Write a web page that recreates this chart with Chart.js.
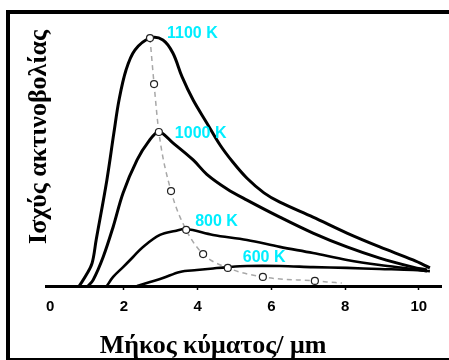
<!DOCTYPE html>
<html>
<head>
<meta charset="utf-8">
<script src="https://cdn.jsdelivr.net/npm/chart.js@4"></script>
<style>
  html, body { margin: 0; padding: 0; background: #fff; }
  canvas { display: block; }
</style>
</head>
<body>
<canvas id="planckChart" width="449" height="360"></canvas>
<script>
// Wavelength (μm) / radiated power (arbitrary units)
const lambda1100 = [0.79, 0.98, 1.14, 1.25, 1.54, 1.73, 1.87, 2.06, 2.30, 2.71, 3.06, 3.33, 3.58, 3.88, 4.25, 4.61, 4.96, 5.34, 5.80, 6.23, 7.13, 8.05, 8.94, 9.84, 10.30];
const power1100  = [0, 4.1, 8.6, 17.3, 39.8, 57.5, 69.9, 81.2, 88.7, 93.2, 92.5, 87.6, 78.6, 69.9, 61.3, 53.0, 46.5, 40.5, 35.0, 31.5, 25.9, 19.9, 14.7, 9.8, 6.8];

const lambda1000 = [1.03, 1.17, 1.44, 1.71, 1.98, 2.36, 2.66, 2.95, 3.33, 3.88, 4.25, 4.80, 5.34, 6.23, 7.13, 8.05, 8.94, 9.84, 10.22];
const power1000  = [0, 2.3, 10.9, 22.2, 35.0, 47.4, 54.1, 57.9, 53.8, 47.4, 42.0, 36.5, 32.3, 25.9, 19.9, 14.7, 10.5, 7.1, 6.0];

const lambda800 = [1.54, 1.71, 1.98, 2.25, 2.52, 2.98, 3.39, 3.69, 4.42, 5.34, 6.23, 7.13, 8.05, 8.94, 9.84, 10.22];
const power800  = [0, 3.4, 7.1, 10.9, 14.7, 19.2, 20.7, 21.4, 19.2, 17.3, 14.7, 12.4, 9.8, 7.9, 6.4, 5.6];

const lambda600 = [2.36, 2.71, 3.06, 3.52, 3.98, 4.42, 4.82, 5.34, 6.23, 7.13, 8.05, 8.94, 9.84, 10.30];
const power600  = [0, 1.5, 3.0, 5.3, 6.0, 6.6, 7.1, 7.5, 7.5, 7.1, 6.8, 6.4, 6.0, 5.6];

// Wien displacement line through the peaks
const lambdaWien = [2.71, 2.82, 2.95, 3.28, 3.69, 4.15, 4.82, 5.77, 7.18, 7.91];
const powerWien  = [93.2, 75.9, 57.9, 35.7, 21.1, 12.0, 6.8, 3.4, 1.9, 1.1];

const xTicks = [0, 2, 4, 6, 8, 10];
const tempLabels = ['1100 K', '1000 K', '800 K', '600 K'];
const tempPeakIndex = [0, 2, 4, 6]; // index in the Wien arrays

const xTitle = 'Μήκος κύματος/ μm';
const yTitle = 'Ισχύς ακτινοβολίας';

const toPoints = (xs, ys) => xs.map((x, i) => ({ x: x, y: ys[i] }));

// label offsets from the peak marker, px
const labelOffsets = [[17, -4], [16, 2], [9, -8], [15, -10]];

const decorPlugin = {
    id: 'decor',
    afterDraw(chart) {
        const ctx = chart.ctx;
        const xs = chart.scales.x;
        const ys = chart.scales.y;
        ctx.save();

        // frame
        ctx.fillStyle = '#000';
        ctx.fillRect(6, 10, 443, 4);
        ctx.fillRect(6, 10, 4, 350);
        ctx.fillRect(6, 358, 443, 2);

        // temperature labels
        ctx.fillStyle = '#00eeff';
        ctx.font = 'bold 16px "Liberation Sans", Arial, sans-serif';
        ctx.textAlign = 'left';
        ctx.textBaseline = 'middle';
        tempLabels.forEach((txt, i) => {
            const k = tempPeakIndex[i];
            const px = xs.getPixelForValue(lambdaWien[k]) + labelOffsets[i][0];
            const py = ys.getPixelForValue(powerWien[k]) + labelOffsets[i][1];
            ctx.fillText(txt, px, py);
        });

        // axis titles
        ctx.fillStyle = '#000';
        ctx.font = 'bold 26px "Liberation Serif", "Times New Roman", serif';
        ctx.textAlign = 'center';
        ctx.textBaseline = 'middle';
        ctx.fillText(xTitle, 213, 346);

        ctx.translate(39, 137);
        ctx.rotate(-Math.PI / 2);
        ctx.fillText(yTitle, 0, 0);
        ctx.restore();
    }
};

const curveStyle = (w) => ({
    borderColor: '#000',
    borderWidth: w,
    pointRadius: 0,
    tension: 0.35,
    fill: false,
    order: 1
});

const canvas = document.getElementById('planckChart');
const chart = new Chart(canvas.getContext('2d'), {
    type: 'line',
    data: {
        datasets: [
            {
                label: 'Wien',
                data: toPoints(lambdaWien, powerWien),
                borderColor: '#a8a8a8',
                borderWidth: 1.5,
                borderDash: [5, 4],
                cubicInterpolationMode: 'monotone',
                pointRadius: ctx => (ctx.dataIndex === lambdaWien.length - 1 ? 0 : 3.5),
                pointBackgroundColor: '#fff',
                pointBorderColor: '#222',
                pointBorderWidth: 1.2,
                order: 0
            },
            Object.assign({ label: '1100 K', data: toPoints(lambda1100, power1100) }, curveStyle(3)),
            Object.assign({ label: '1000 K', data: toPoints(lambda1000, power1000) }, curveStyle(3)),
            Object.assign({ label: '800 K', data: toPoints(lambda800, power800) }, curveStyle(2.6)),
            Object.assign({ label: '600 K', data: toPoints(lambda600, power600) }, curveStyle(2.6))
        ]
    },
    options: {
        responsive: false,
        animation: false,
        layout: {
            padding: { left: 46, right: 8, top: 20, bottom: 0 }
        },
        plugins: {
            legend: { display: false },
            tooltip: { enabled: false }
        },
        scales: {
            x: {
                type: 'linear',
                min: -0.11,
                max: 10.6,
                afterFit: scale => { scale.height = 74; }, // keeps the baseline at y = 286
                afterBuildTicks: scale => { scale.ticks = xTicks.map(v => ({ value: v })); },
                border: { display: true, color: '#000', width: 3 },
                grid: {
                    drawOnChartArea: false,
                    drawTicks: true,
                    tickLength: 4,
                    tickWidth: 1.5,
                    color: ctx => (ctx.tick && ctx.tick.value === 0 ? 'rgba(0,0,0,0)' : '#000')
                },
                ticks: {
                    color: '#000',
                    padding: 8,
                    maxRotation: 0,
                    font: { family: '"Liberation Sans", Arial, sans-serif', size: 15, weight: 'bold' }
                }
            },
            y: {
                display: false,
                min: 0,
                max: 100
            }
        }
    },
    plugins: [decorPlugin]
});
</script>
</body>
</html>
